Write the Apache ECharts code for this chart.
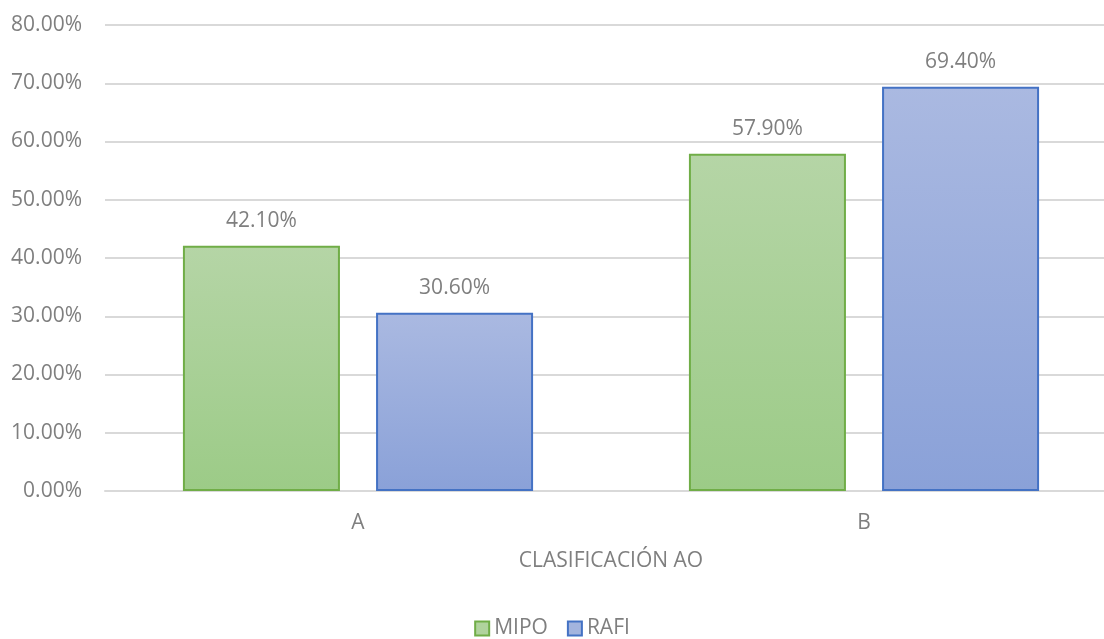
<!DOCTYPE html>
<html><head><meta charset="utf-8">
<script src="https://cdn.jsdelivr.net/npm/echarts@6/dist/echarts.min.js"></script>
<style>html,body{margin:0;padding:0;background:#fff}#c{width:1104px;height:639px}</style>
</head><body><div id="c"></div>
<script>
const categories = ['A', 'B'];
const mipo = [42.1, 57.9];
const rafi = [30.6, 69.4];
const seriesNames = ['MIPO', 'RAFI'];
const xAxisTitle = 'CLASIFICACIÓN AO';

const font = 'Open Sans';
const grey = '#7f7f7f';
const fs = 21;
function grad(top, bottom) {
  return new echarts.graphic.LinearGradient(0, 0, 0, 1, [{offset: 0, color: top}, {offset: 1, color: bottom}]);
}
const chart = echarts.init(document.getElementById('c'));
const lbl = {show: true, position: 'top', distance: 14, color: grey, fontFamily: font, fontSize: fs,
  formatter: p => p.value.toFixed(2) + '%'};
chart.setOption({
  animation: false,
  grid: {left: 105, width: 1012, top: 25, bottom: 148, containLabel: false, outerBoundsMode: 'none'},
  legend: {top: 618, left: 'center', itemWidth: 14, itemHeight: 14, itemGap: 19, padding: 0,
    textStyle: {color: grey, fontFamily: font, fontSize: fs},
    data: [
      {name: seriesNames[0], icon: 'rect', itemStyle: {color: '#b0d39d', borderColor: '#70ad47', borderWidth: 2}},
      {name: seriesNames[1], icon: 'rect', itemStyle: {color: '#a3b4de', borderColor: '#4472c4', borderWidth: 2}}
    ]},
  xAxis: {type: 'category', data: categories,
    axisLine: {show: true, lineStyle: {color: '#d9d9d9', width: 2}},
    axisTick: {show: false},
    axisLabel: {color: grey, fontFamily: font, fontSize: fs, margin: 22},
    name: xAxisTitle, nameLocation: 'middle', nameGap: 60,
    nameTextStyle: {color: grey, fontFamily: font, fontSize: fs}},
  yAxis: {type: 'value', min: 0, max: 80, interval: 10,
    axisLine: {show: false}, axisTick: {show: false},
    splitLine: {lineStyle: {color: '#d9d9d9', width: 2}},
    axisLabel: {color: grey, fontFamily: font, fontSize: fs, margin: 23,
      formatter: v => v.toFixed(2) + '%'}},
  series: [
    {name: seriesNames[0], type: 'bar', data: mipo, barGap: '23%', barCategoryGap: '30.8%',
      itemStyle: {color: grad('#b5d5a6', '#9ccb87'), borderColor: '#70ad47', borderWidth: 2},
      label: lbl},
    {name: seriesNames[1], type: 'bar', data: rafi,
      itemStyle: {color: grad('#aab9e1', '#8aa1d8'), borderColor: '#4472c4', borderWidth: 2},
      label: lbl}
  ]
});
</script></body></html>
